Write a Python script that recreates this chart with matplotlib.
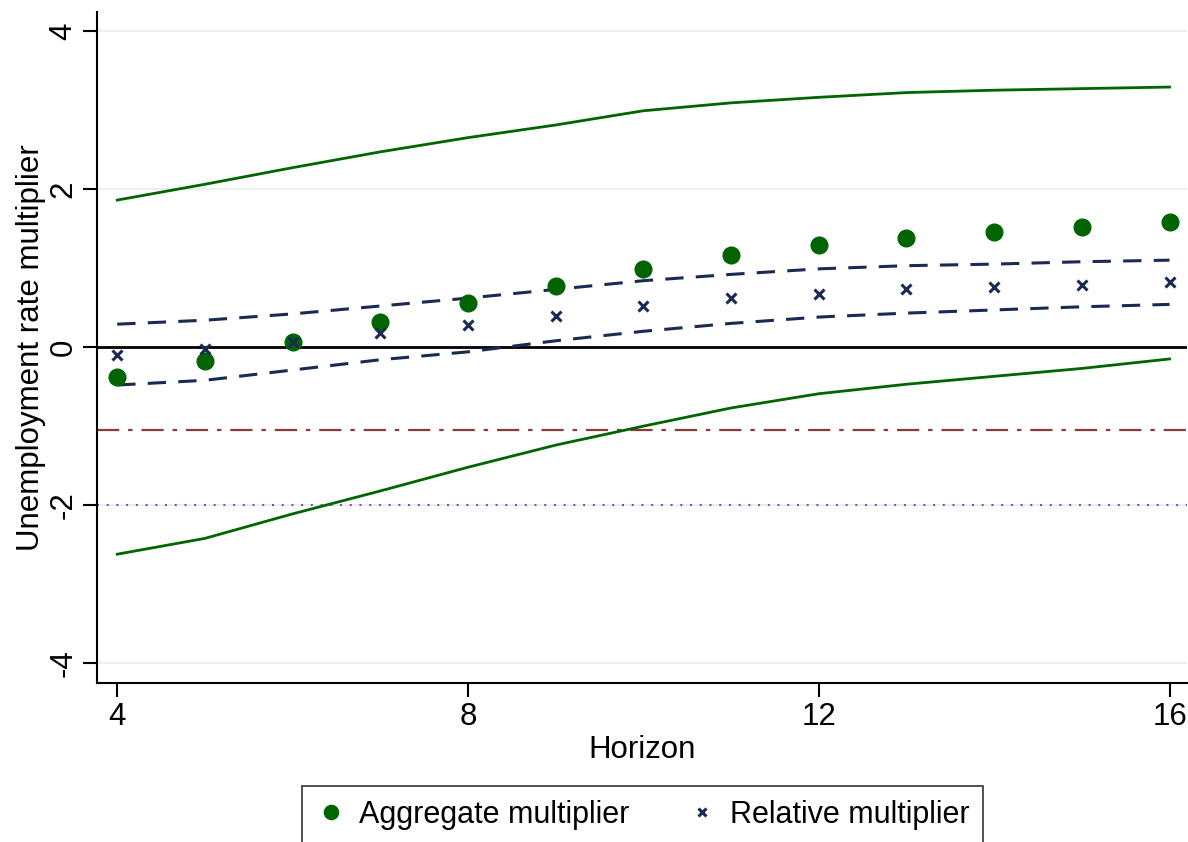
import numpy as np
from matplotlib import pyplot as plt

plt.rcParams['font.family'] = ['Liberation Sans', 'DejaVu Sans']
plt.rcParams['axes.unicode_minus'] = False

horizon = [4, 5, 6, 7, 8, 9, 10, 11, 12, 13, 14, 15, 16]
aggregate = [-0.38, -0.18, 0.06, 0.32, 0.56, 0.77, 0.99, 1.16, 1.29, 1.38, 1.46, 1.52, 1.58]
relative = [-0.10, -0.03, 0.06, 0.18, 0.28, 0.39, 0.52, 0.62, 0.67, 0.73, 0.76, 0.78, 0.82]
agg_upper = [1.86, 2.06, 2.27, 2.47, 2.65, 2.81, 2.99, 3.09, 3.16, 3.22, 3.25, 3.27, 3.29]
agg_lower = [-2.62, -2.42, -2.11, -1.82, -1.52, -1.24, -1.00, -0.77, -0.59, -0.47, -0.37, -0.27, -0.15]
rel_upper = [0.29, 0.34, 0.42, 0.52, 0.62, 0.73, 0.84, 0.92, 0.99, 1.03, 1.05, 1.08, 1.10]
rel_lower = [-0.48, -0.42, -0.29, -0.16, -0.06, 0.08, 0.20, 0.30, 0.38, 0.43, 0.47, 0.51, 0.54]
ref_dashdot = -1.05
ref_dotted = -2.0

green = "#006400"
navy = "#1a2a52"

fig = plt.figure(figsize=(11.88, 8.42), dpi=100)
ax = fig.add_axes([0.0817, 0.1888, 0.9175, 0.797])

for yv in [-4, -2, 2, 4]:
    ax.axhline(yv, color="#e8f0f2", lw=1.5, zorder=0)
ax.axhline(0, color="black", lw=2, zorder=1)
ax.axhline(ref_dashdot, color="#8b3a3a", lw=1.6, dashes=(10, 4, 2, 4), zorder=1)
ax.axhline(ref_dotted, color="#9b30b0", lw=1.4, dashes=(1, 4), zorder=1)

ax.plot(horizon, agg_upper, color=green, lw=2)
ax.plot(horizon, agg_lower, color=green, lw=2)
ax.plot(horizon, rel_upper, color=navy, lw=2.2, dashes=(6, 4))
ax.plot(horizon, rel_lower, color=navy, lw=2.2, dashes=(6, 4))

ax.plot(horizon, aggregate, "o", color=green, ms=12, zorder=3, label="Aggregate multiplier")
ax.plot(horizon, relative, "x", color=navy, ms=7, mew=2.2, zorder=4, label="Relative multiplier")

ax.set_xlim(3.77, 16.2)
ax.set_ylim(-4.25, 4.24)
ax.set_xticks([4, 8, 12, 16])
ax.set_yticks([-4, -2, 0, 2, 4])
ax.tick_params(direction="out", length=10, width=1.5, labelsize=22.5)
for lab in ax.get_yticklabels():
    lab.set_rotation(90)
    lab.set_va("center")
for side in ["top", "right"]:
    ax.spines[side].set_visible(False)
for side in ["left", "bottom"]:
    ax.spines[side].set_linewidth(1.5)

ax.set_xlabel("Horizon", fontsize=22.5, labelpad=2)
ax.set_ylabel("Unemployment rate multiplier", fontsize=22.5, labelpad=2)

leg = fig.legend(loc="upper center", bbox_to_anchor=(0.541, 1 - 786 / 842), ncol=2,
                 fontsize=22, frameon=True, fancybox=False, edgecolor="black",
                 handletextpad=0.4, columnspacing=1.9, borderpad=0.45, handlelength=1.0,
                 borderaxespad=0, markerscale=0.85)
leg.get_frame().set_linewidth(1.2)

fig.savefig("out.png", dpi=100)
